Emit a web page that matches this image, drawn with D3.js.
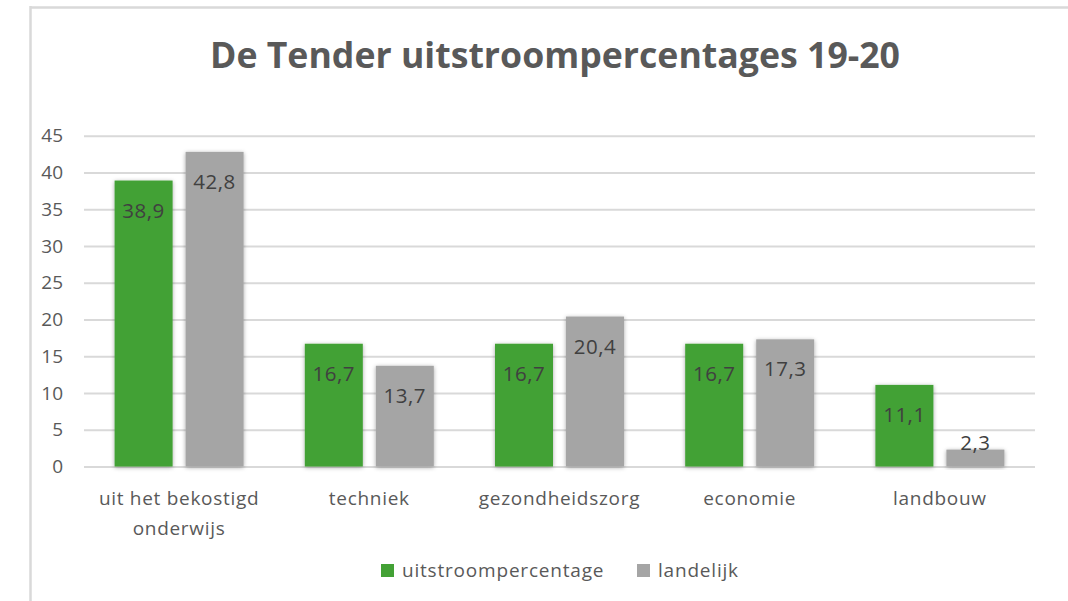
<!DOCTYPE html>
<html><head><meta charset="utf-8">
<script src="https://cdn.jsdelivr.net/npm/d3@7"></script>
<style>
html,body{margin:0;padding:0;background:#fff;}
svg{display:block;}
</style></head>
<body>
<script>
const categories = [["uit het bekostigd","onderwijs"],["techniek"],["gezondheidszorg"],["economie"],["landbouw"]];
const seriesNames = ["uitstroompercentage","landelijk"];
const uitstroom = [38.9,16.7,16.7,16.7,11.1];
const landelijk = [42.8,13.7,20.4,17.3,2.3];
const yTicks = [0,5,10,15,20,25,30,35,40,45];
const colors = ["#43a135","#a5a5a5"];
const title = "De Tender uitstroompercentages 19-20";

(function(){
const W = 1068, H = 601;
const svg = d3.select("body").append("svg").attr("width",W).attr("height",H);
const font = "'Open Sans', sans-serif";

const defs = svg.append("defs");
const f = defs.append("filter").attr("id","sh").attr("x","-20%").attr("y","-20%").attr("width","140%").attr("height","140%");
f.append("feDropShadow").attr("dx",0).attr("dy",1).attr("stdDeviation",2).attr("flood-color","#000").attr("flood-opacity",0.35);

// frame
svg.append("line").attr("x1",30).attr("x2",W).attr("y1",7.5).attr("y2",7.5).attr("stroke","#d9d9d9").attr("stroke-width",2.5);
svg.append("line").attr("x1",30.5).attr("x2",30.5).attr("y1",6).attr("y2",H).attr("stroke","#d9d9d9").attr("stroke-width",2.5);

// title
svg.append("text").attr("x",555).attr("y",68).attr("text-anchor","middle")
  .attr("font-family",font).attr("font-weight","bold").attr("font-size",36)
  .attr("fill","#595959").attr("textLength",690).attr("lengthAdjust","spacingAndGlyphs").text(title);

const pLeft = 84, pRight = 1035, pTop = 135.7, pBottom = 466.5;
const y = d3.scaleLinear().domain([0,45]).range([pBottom, pTop]);
const idx = categories.map((c,i)=>i);
const x0 = d3.scaleBand().domain(idx).range([pLeft,pRight]).padding(0);
const step = x0.bandwidth();
const groupW = 129;
const x1 = d3.scaleBand().domain([0,1]).range([(step-groupW)/2,(step+groupW)/2]).paddingInner(13/71);

// grid
const yAxis = d3.axisLeft(y).tickValues(yTicks).tickSize(-(pRight-pLeft)).tickFormat(d3.format("d"));
const ga = svg.append("g").attr("transform",`translate(${pLeft},0)`).call(yAxis);
ga.select(".domain").remove();
ga.selectAll(".tick line").attr("stroke","#d9d9d9").attr("stroke-width",2);
ga.selectAll(".tick text").attr("x",-21).attr("font-family",font).attr("font-size",19).attr("fill","#595959");

const data = [uitstroom, landelijk];
const gBars = svg.append("g");
data.forEach((vals,s)=>{
  gBars.selectAll(null).data(vals).enter().append("rect")
    .attr("x",(d,i)=>x0(i)+x1(s)).attr("width",x1.bandwidth())
    .attr("y",d=>y(d)).attr("height",d=>y(0)-y(d))
    .attr("fill",colors[s]).attr("filter","url(#sh)");
});
data.forEach((vals,s)=>{
  gBars.selectAll(null).data(vals).enter().append("text")
    .attr("x",(d,i)=>x0(i)+x1(s)+x1.bandwidth()/2)
    .attr("y",d=>(y(0)-y(d))>45 ? y(d)+37 : y(d))
    .attr("text-anchor","middle").attr("font-family",font).attr("font-size",20.5)
    .attr("letter-spacing",0.5).attr("fill","#404040")
    .text(d=>d3.format(".1f")(d).replace(".",","));
});

// category labels
const gx = svg.append("g");
categories.forEach((lines,i)=>{
  const t = gx.append("text").attr("x",x0(i)+step/2).attr("text-anchor","middle")
    .attr("font-family",font).attr("font-size",19).attr("letter-spacing",0.7).attr("fill","#595959");
  lines.forEach((ln,j)=>t.append("tspan").attr("x",x0(i)+step/2).attr("y",505+j*30).text(ln));
});

// legend
const legendX = [381, 637];
seriesNames.forEach((n,s)=>{
  svg.append("rect").attr("x",legendX[s]).attr("y",564).attr("width",13).attr("height",13).attr("fill",colors[s]);
  svg.append("text").attr("x",legendX[s]+21).attr("y",577).attr("font-family",font).attr("font-size",19)
    .attr("letter-spacing",0.8).attr("fill","#595959").text(n);
});
})();
</script>
</body></html>
